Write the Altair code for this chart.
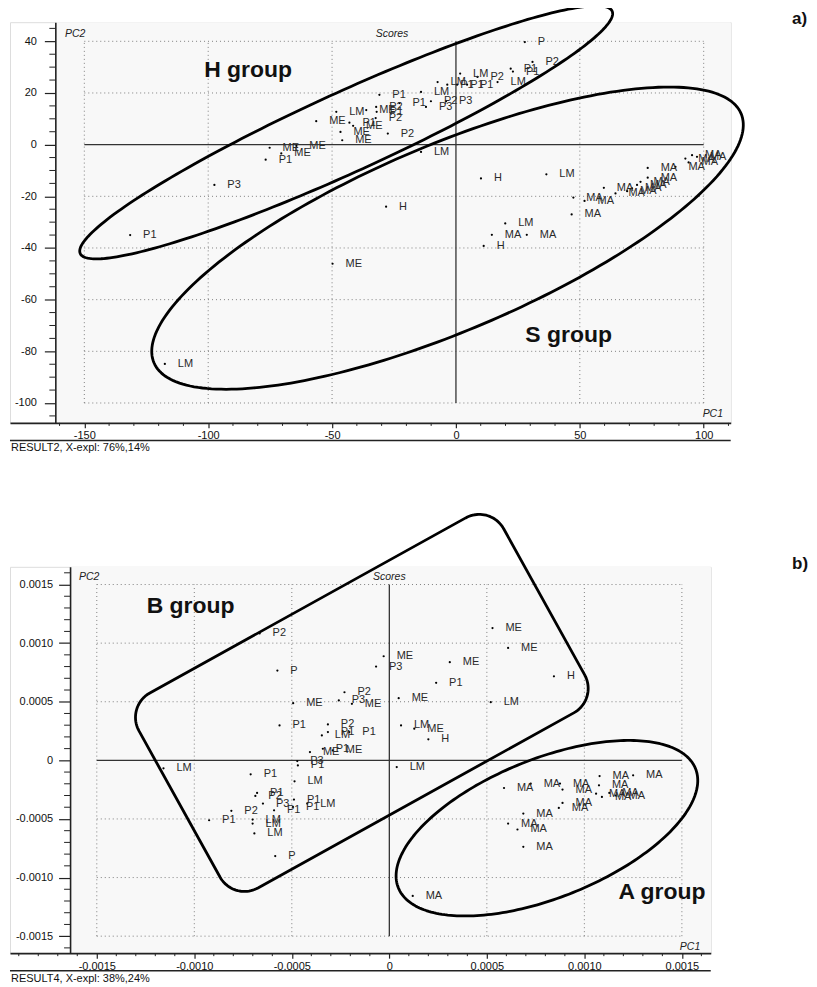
import altair as alt
import numpy as np
import pandas as pd

# ---------------- panel a) RESULT2 scores ----------------
A_LABELS = ["P1", "P3", "P1", "ME", "ME", "ME", "ME", "LM", "P1", "ME",
            "ME", "ME", "ME", "P2", "P1", "P2", "P1", "P2", "P1", "LM",
            "P3", "P2", "P3", "LM", "P1", "P1", "P1", "LM", "P2", "LM",
            "P1", "P1", "P2", "P", "LM", "H", "LM", "H", "LM", "MA",
            "MA", "H", "MA", "MA", "MA", "MA", "MA", "MA", "MA", "MA",
            "MA", "MA", "MA", "MA", "MA", "MA", "MA", "MA", "ME", "LM"]
A_PC1 = [-131.5, -97.5, -76.8, -75.2, -70.5, -64.4, -56.4, -48.3, -43.0, -41.5,
         -46.6, -45.9, -36.2, -32.2, -32.0, -32.4, -30.9, -27.5, -22.8, -14.1,
         -12.1, -10.1, -4.0, -7.4, -3.5, 0.5, 4.5, 1.7, 8.7, 16.8,
         22.1, 23.0, 30.9, 27.8, -14.1, 10.1, 36.5, -28.2, 19.9, 14.5,
         28.6, 11.2, 46.7, 47.4, 51.9, 59.7, 64.4, 69.1, 71.1, 73.1,
         74.5, 77.4, 77.4, 88.6, 92.6, 93.9, 95.3, 97.3, -49.8, -117.5]
A_PC2 = [-35.0, -15.6, -5.8, -1.2, -3.4, -0.5, 9.1, 12.7, 8.5, 7.3,
         4.9, 1.7, 13.4, 14.6, 12.7, 10.3, 19.3, 4.3, 16.1, 20.4,
         14.6, 16.8, 16.8, 24.2, 23.2, 23.2, 23.2, 27.5, 26.2, 24.2,
         29.4, 28.3, 32.0, 39.7, -2.8, -13.1, -11.5, -24.0, -30.5, -34.9,
         -34.9, -39.2, -27.0, -20.5, -21.8, -16.7, -18.9, -18.0, -16.9, -15.6,
         -14.4, -9.0, -12.8, -8.6, -5.4, -6.9, -4.1, -4.7, -46.1, -84.9]

# ---------------- panel b) RESULT4 scores ----------------
B_LABELS = ["P2", "P", "ME", "P1", "P2", "P3", "ME", "ME", "P3", "ME",
            "P1", "ME", "LM", "ME", "ME", "H", "P2", "LM", "P1", "P1",
            "LM", "ME", "H", "ME", "P1", "ME", "P3", "P1", "LM", "P1",
            "LM", "P1", "P2", "P3", "P1", "P1", "P1", "LM", "P2", "P1",
            "LM", "LM", "LM", "P", "LM", "MA", "MA", "MA", "MA", "MA",
            "MA", "MA", "MA", "MA", "MA", "MA", "MA", "MA", "MA", "MA",
            "MA", "MA", "MA"]
B_PC1 = [-0.000665, -0.000574, -0.000493, -0.000563, -0.000230, -0.000259, -0.000192, -0.000029, -0.000068, 0.000310,
         0.000240, 0.000048, 0.000520, 0.000609, 0.000529, 0.000844, -0.000315, -0.000346, -0.000315, -0.000205,
         0.000060, 0.000128, 0.000200, -0.000407, -0.000341, -0.000290, -0.000472, -0.000469, -0.001158, -0.000711,
         -0.000486, -0.000678, -0.000687, -0.000648, -0.000591, -0.000489, -0.000494, -0.000421, -0.000810, -0.000924,
         -0.000701, -0.000701, -0.000692, -0.000585, 0.000038, 0.000120, 0.000588, 0.000725, 0.000687, 0.000609,
         0.000657, 0.000687, 0.000875, 0.000888, 0.001078, 0.001250, 0.001075, 0.001060, 0.001090, 0.001128,
         0.001160, 0.000888, 0.000869]
B_PC2 = [0.001083, 0.000766, 0.000488, 0.000298, 0.000581, 0.000511, 0.000482, 0.000888, 0.000800, 0.000837,
         0.000661, 0.000530, 0.000496, 0.000959, 0.001129, 0.000717, 0.000306, 0.000213, 0.000241, 0.000241,
         0.000298, 0.000270, 0.000179, 0.000071, 0.000099, 0.000085, -0.000006, -0.000043, -0.000068, -0.000119,
         -0.000179, -0.000278, -0.000304, -0.000369, -0.000426, -0.000335, -0.000397, -0.000369, -0.000431, -0.000511,
         -0.000505, -0.000539, -0.000624, -0.000817, -0.000057, -0.001157, -0.000236, -0.000199, -0.000454, -0.000539,
         -0.000590, -0.000738, -0.000198, -0.000249, -0.000134, -0.000128, -0.000213, -0.000284, -0.000312, -0.000278,
         -0.000300, -0.000363, -0.000406]

SANS = "Liberation Sans, Arial, sans-serif"


def ellipse(cx, cy, a_px, b_px, ang, kx, ky, n=240):
    t = np.linspace(0, 2 * np.pi, n + 1)
    c, s = np.cos(np.radians(ang)), np.sin(np.radians(ang))
    u, v = a_px * np.cos(t), b_px * np.sin(t)
    return cx + (u * c - v * s) / kx, cy + (u * s + v * c) / ky


def rounded_rect(cx, cy, hl, hw, r, ang, kx, ky):
    pts = []
    for ux, vy, a0 in [(hl - r, hw - r, 0), (-hl + r, hw - r, 90),
                       (-hl + r, -hw + r, 180), (hl - r, -hw + r, 270)]:
        th = np.radians(np.linspace(a0, a0 + 90, 24))
        pts += list(zip(ux + r * np.cos(th), vy + r * np.sin(th)))
    pts.append(pts[0])
    u = np.array([p[0] for p in pts])
    v = np.array([p[1] for p in pts])
    c, s = np.cos(np.radians(ang)), np.sin(np.radians(ang))
    return cx + (u * c - v * s) / kx, cy + (u * s + v * c) / ky


def panel(labels, pc1, pc2, xdom, ydom, W, H, xgrid, ygrid, xmajor, ymajor,
          xminor, yminor, yaxis_x, fmt, shapes, small_texts, group_texts,
          caption, tag, ytick, ylabpad):
    kx = W / (xdom[1] - xdom[0])
    ky = H / (ydom[1] - ydom[0])
    sx = alt.Scale(domain=xdom, nice=False, zero=False)
    sy = alt.Scale(domain=ydom, nice=False, zero=False)
    ypx = (yaxis_x - xdom[0]) * kx
    axx = alt.Axis(values=xmajor, tickSize=5, labelPadding=2, grid=False, zindex=1,
                   domainColor="#222", domainWidth=1.6, tickColor="#222", tickWidth=1.2,
                   labelFont=SANS, labelFontSize=11, labelColor="#111",
                   labelExpr=fmt, labelFlush=False, labelOverlap=False, title=None)
    axy = alt.Axis(values=ymajor, orient="left", offset=-ypx, tickSize=ytick,
                   labelPadding=ylabpad, grid=False, zindex=1,
                   domainColor="#222", domainWidth=1.6, tickColor="#222", tickWidth=1.2,
                   labelFont=SANS, labelFontSize=11, labelColor="#111",
                   labelExpr=fmt, labelFlush=False, labelOverlap=False, title=None)

    def X(f):
        return alt.X(f, type="quantitative", scale=sx, axis=axx)

    def Y(f):
        return alt.Y(f, type="quantitative", scale=sy, axis=axy)

    bg = alt.Chart(pd.DataFrame({"x0": [yaxis_x], "x1": [xdom[1]],
                                 "y0": [ydom[0]], "y1": [ydom[1]]})).mark_rect(
        color="#f8f8f8").encode(x=X("x0"), x2="x1", y=Y("y0"), y2="y1")

    vg = alt.Chart(pd.DataFrame({"v": [g for g in xgrid if g != 0],
                                 "a": ygrid[0], "b": ygrid[-1]})).mark_rule(
        color="#808080", strokeDash=[1, 3], strokeWidth=1).encode(
        x=X("v"), y=Y("a"), y2="b")
    hg = alt.Chart(pd.DataFrame({"v": [g for g in ygrid if g != 0],
                                 "a": xgrid[0], "b": xgrid[-1]})).mark_rule(
        color="#808080", strokeDash=[1, 3], strokeWidth=1).encode(
        y=Y("v"), x=X("a"), x2="b")
    zv = alt.Chart(pd.DataFrame({"v": [0], "a": [ygrid[0]], "b": [ygrid[-1]]})).mark_rule(
        color="#333", strokeWidth=1.3).encode(x=X("v"), y=Y("a"), y2="b")
    zh = alt.Chart(pd.DataFrame({"v": [0], "a": [xgrid[0]], "b": [xgrid[-1]]})).mark_rule(
        color="#333", strokeWidth=1.3).encode(y=Y("v"), x=X("a"), x2="b")

    mx = alt.Chart(pd.DataFrame({"v": xminor})).mark_rule(
        color="#222", strokeWidth=1).encode(x=X("v"), y=alt.value(H), y2=alt.value(H + 3))
    my = alt.Chart(pd.DataFrame({"v": yminor})).mark_rule(
        color="#222", strokeWidth=1).encode(y=Y("v"), x=alt.value(ypx - 6), x2=alt.value(ypx))

    df = pd.DataFrame({"lab": labels, "pc1": pc1, "pc2": pc2})
    pts = alt.Chart(df).mark_circle(size=5, color="black", opacity=1).encode(
        x=X("pc1"), y=Y("pc2"))
    labs = alt.Chart(df).mark_text(align="left", baseline="middle", dx=13,
                                   fontSize=11, font=SANS, color="#2a2a2a").encode(
        x=X("pc1"), y=Y("pc2"), text="lab")

    rows = []
    for sh in shapes:
        if sh["kind"] == "ellipse":
            xs, ys = ellipse(sh["cx"], sh["cy"], sh["a"], sh["b"], sh["ang"], kx, ky)
        else:
            xs, ys = rounded_rect(sh["cx"], sh["cy"], sh["a"], sh["b"], sh["r"], sh["ang"], kx, ky)
        for i, (xx, yy) in enumerate(zip(xs, ys)):
            rows.append({"shape": sh["name"], "i": i, "x": xx, "y": yy})
    shp = alt.Chart(pd.DataFrame(rows)).mark_line(
        color="black", strokeWidth=2.8, clip=False, strokeJoin="round",
        strokeCap="round").encode(
        x=X("x"), y=Y("y"), detail="shape:N", order="i:Q")

    st = pd.DataFrame(small_texts, columns=["t", "x", "y", "al"])
    smalls = []
    for al in ["left", "center", "right"]:
        sub = st[st["al"] == al]
        if len(sub):
            smalls.append(alt.Chart(sub).mark_text(
                align=al, baseline="middle", fontSize=10.5, fontStyle="italic",
                font=SANS, color="#222").encode(x=X("x"), y=Y("y"), text="t"))
    gt = alt.Chart(pd.DataFrame(group_texts, columns=["t", "x", "y"])).mark_text(
        align="center", baseline="middle", fontSize=23, fontWeight="bold",
        font=SANS, color="#111").encode(x=X("x"), y=Y("y"), text="t")

    cap_line = alt.Chart(pd.DataFrame({"k": [0]})).mark_rule(
        color="#222", strokeWidth=1.6).encode(
        x=alt.value(0), x2=alt.value(W), y=alt.value(H + 17.6))
    cap = alt.Chart(pd.DataFrame({"t": [caption]})).mark_text(
        align="left", baseline="middle", fontSize=11, font=SANS, color="#111").encode(
        x=alt.value(1), y=alt.value(H + 25.6), text="t")
    tg = alt.Chart(pd.DataFrame({"t": [tag]})).mark_text(
        align="left", baseline="middle", fontSize=17, fontWeight="bold",
        font=SANS, color="#111").encode(
        x=alt.value(784), y=alt.value(-3), text="t")

    return alt.layer(bg, vg, hg, zv, zh, mx, my, pts, labs, shp, *smalls, gt,
                     cap_line, cap, tg).properties(width=W, height=H)


# ---------------- panel a layout ----------------
WA, HA = 722.5, 401.7
xdom_a, ydom_a = [-180.0, 110.9], [-107.7, 47.4]
pa = panel(
    A_LABELS, A_PC1, A_PC2, xdom_a, ydom_a, WA, HA,
    xgrid=[-150, -100, -50, 0, 50, 100],
    ygrid=[-100, -80, -60, -40, -20, 0, 20, 40],
    xmajor=[-150, -100, -50, 0, 50, 100],
    ymajor=[-100, -80, -60, -40, -20, 0, 20, 40],
    xminor=[v for v in range(-160, 111, 10) if v % 50 != 0],
    yminor=[v for v in range(-105, 46, 5) if v % 20 != 0],
    yaxis_x=-161.7,
    fmt="'' + datum.value",
    shapes=[dict(kind="ellipse", name="H", cx=-44.3, cy=4.75, a=293, b=40, ang=24.5),
            dict(kind="ellipse", name="S", cx=-3.4, cy=-36.2, a=319.7, b=93.1, ang=23)],
    small_texts=[("PC2", -157.8, 42.9, "left"), ("Scores", -25.8, 42.9, "center"),
                 ("PC1", 107.8, -104.2, "right")],
    group_texts=[("H group", -83.9, 28.8), ("S group", 45.5, -73.6)],
    caption="RESULT2, X-expl: 76%,14%", tag="a)", ytick=11, ylabpad=8)

# ---------------- panel b layout ----------------
WB, HB = 702.5, 387.3
xdom_b, ydom_b = [-0.001945, 0.001648], [-0.001645, 0.001651]
pb = panel(
    B_LABELS, B_PC1, B_PC2, xdom_b, ydom_b, WB, HB,
    xgrid=[-0.0015, -0.0010, -0.0005, 0, 0.0005, 0.0010, 0.0015],
    ygrid=[-0.0015, -0.0010, -0.0005, 0, 0.0005, 0.0010, 0.0015],
    xmajor=[-0.0015, -0.0010, -0.0005, 0, 0.0005, 0.0010, 0.0015],
    ymajor=[-0.0015, -0.0010, -0.0005, 0, 0.0005, 0.0010, 0.0015],
    xminor=[k / 10000 for k in range(-19, 17) if k % 5 != 0],
    yminor=[k / 10000 for k in range(-16, 17) if k % 5 != 0],
    yaxis_x=-0.001637,
    fmt="datum.value == 0 ? '0' : (datum.value < 0 ? '-' : '') + format(abs(datum.value), '.4f')",
    shapes=[dict(kind="rrect", name="B", cx=-0.000141, cy=0.000490, a=209, b=111.75, r=28, ang=29),
            dict(kind="ellipse", name="A", cx=0.000808, cy=-0.000579, a=160.5, b=69.6, ang=21.85)],
    small_texts=[("PC2", -0.001591, 0.00156, "left"), ("Scores", 0.0, 0.00156, "center"),
                 ("PC1", 0.001594, -0.001589, "right")],
    group_texts=[("B group", -0.001019, 0.001319), ("A group", 0.001398, -0.001122)],
    caption="RESULT4, X-expl: 38%,24%", tag="b)", ytick=11.5, ylabpad=6)

chart = alt.vconcat(pa, pb, spacing=58).properties(
    padding={"left": 0, "top": -6, "right": 0, "bottom": 0}
).configure_view(stroke=None).configure(background="white")

chart.save("out.html", embed_options={"renderer": "svg", "actions": False})
